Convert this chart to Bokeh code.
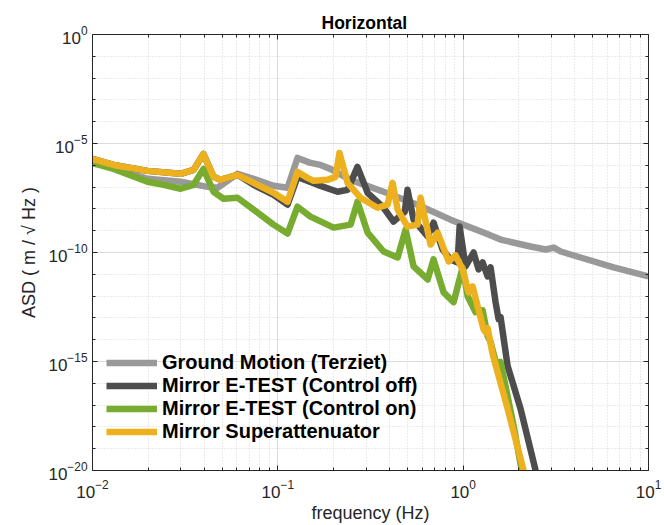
import numpy as np
from bokeh.plotting import figure
from bokeh.models import (LogAxis, FixedTicker, CustomJSTickFormatter, LogTickFormatter,
                          Legend, LegendItem, Range1d)
from bokeh.embed import file_html
from bokeh.resources import INLINE

FONT = "Liberation Sans"

# ---------------- data (frequency in Hz, ASD in m/sqrt(Hz)) ----------------
ground_f = [0.0100, 0.0130, 0.0198, 0.0299, 0.0418, 0.0473, 0.0606, 0.0740, 0.0948,
            0.1128, 0.1277, 0.150, 0.170, 0.192, 0.247, 0.372, 0.567, 0.855, 1.288,
            1.592, 2.31, 2.79, 3.08, 3.36, 4.30, 6.49, 10.0]
ground_asd = [1.43e-6, 7.6e-7, 2.39e-7, 1.75e-7, 1.03e-7, 9.3e-8, 4.05e-7, 2.39e-7, 1.15e-7,
              9.3e-8, 2.18e-6, 1.29e-6, 1.04e-6, 6.85e-7, 2.15e-7, 6.1e-8, 1.56e-8, 3.21e-9, 8.2e-10,
              3.9e-10, 1.88e-10, 1.37e-10, 1.69e-10, 1.11e-10, 5.9e-11, 2.07e-11, 8.0e-12]

off_f = [0.0100, 0.0130, 0.0198, 0.0299, 0.0351, 0.0397, 0.0450, 0.0491, 0.0606, 0.0740,
         0.0948, 0.1128, 0.1277, 0.164, 0.210, 0.238, 0.269, 0.305, 0.372, 0.421,
         0.484, 0.501, 0.540, 0.643, 0.692, 0.774, 0.855, 0.933, 0.957, 1.03, 1.138,
         1.211, 1.273, 1.355, 1.406, 1.496, 1.553, 1.592, 1.737, 2.04, 2.46, 2.55]
off_asd = [1.96e-6, 1.04e-6, 5.55e-7, 4.05e-7, 6.17e-7, 3.32e-6, 2.95e-7, 2.15e-7, 3.65e-7, 1.27e-7,
           4.45e-8, 1.56e-8, 2.95e-7, 1.27e-7, 6.1e-8, 7.5e-8, 8.45e-7, 5.5e-8, 1.13e-8, 2.6e-9,
           7.4e-9, 7.5e-8, 3.21e-9, 5.4e-10, 2.34e-9, 1.37e-10, 4.8e-11, 3.5e-11, 1.54e-9, 2.3e-11, 1.0e-10,
           1.67e-11, 3.5e-11, 8.0e-12, 2.07e-11, 5.2e-13, 8.7e-14, 1.08e-13, 6.2e-16, 6.8e-18, 1e-20, 4.3e-21]

on_f = [0.0100, 0.0130, 0.0198, 0.0242, 0.0299, 0.0351, 0.0397, 0.0450, 0.0509, 0.0606,
        0.0740, 0.0948, 0.1128, 0.1277, 0.150, 0.200, 0.247, 0.269, 0.305, 0.372,
        0.443, 0.489, 0.540, 0.643, 0.692, 0.784, 0.888, 0.993, 1.057, 1.167,
        1.273, 1.355, 1.406, 1.534, 1.592, 1.871, 2.07, 2.12]
on_asd = [1.29e-6, 6.85e-7, 1.75e-7, 1.27e-7, 8.4e-8, 1.27e-7, 6.85e-7, 6.1e-8, 2.92e-8, 3.25e-8,
          9.2e-9, 1.90e-9, 7.4e-10, 1.26e-8, 4.4e-9, 1.39e-9, 1.90e-9, 2.13e-8, 8.2e-10, 1.11e-10,
          5.9e-11, 1.12e-9, 2.3e-11, 5.8e-12, 4.8e-11, 1.49e-12, 5.2e-13, 2.07e-11, 9.8e-13, 1.82e-13,
          2.25e-13, 1.46e-14, 7.8e-15, 4.5e-16, 9.5e-16, 1.13e-18, 1e-20, 4.3e-21]

sa_f = [0.0100, 0.0130, 0.0198, 0.0299, 0.0351, 0.0397, 0.0450, 0.0491, 0.0606, 0.0740,
        0.0948, 0.1128, 0.1277, 0.1446, 0.156, 0.185, 0.205, 0.215, 0.238, 0.279,
        0.345, 0.391, 0.416, 0.443, 0.501, 0.567, 0.589, 0.667, 0.728, 0.835, 0.910,
        0.993, 1.07, 1.124, 1.197, 1.288, 1.321, 1.355, 1.442, 1.737, 2.12, 2.17]
sa_asd = [1.96e-6, 1.04e-6, 5.55e-7, 4.05e-7, 6.17e-7, 3.32e-6, 2.95e-7, 2.15e-7, 3.65e-7, 1.57e-7,
          5.5e-8, 2.13e-8, 5.0e-7, 2.66e-7, 1.94e-7, 2.15e-7, 2.95e-7, 3.68e-6, 1.57e-7, 3.25e-8,
          1.13e-8, 1.56e-8, 1.57e-7, 9.2e-9, 1.54e-9, 1.9e-9, 3.25e-8, 2.32e-10, 8.2e-10, 3.9e-11, 7.3e-11,
          1.67e-11, 1.49e-12, 2.8e-12, 3.4e-13, 3.05e-14, 2.2e-14, 3.4e-14, 2.2e-15, 6.8e-18, 1e-20, 4.3e-21]

series_names = ["Ground Motion (Terziet)", "Mirror E-TEST (Control off)",
                "Mirror E-TEST (Control on)", "Mirror Superattenuator"]
series_colors = ["#999999", "#4d4d4d", "#77ac30", "#edb120"]

x_major = [1e-2, 1e-1, 1e0, 1e1]
x_minor = [m * d for d in (1e-2, 1e-1, 1e0) for m in range(2, 10)]
y_major = [1e-20, 1e-15, 1e-10, 1e-5, 1e0]
y_minor = [10.0 ** e for e in range(-20, 1)]

# ---------------- figure ----------------
p = figure(width=664, height=525, x_axis_type="log", y_axis_type="log",
           x_range=Range1d(1e-2, 1e1), y_range=Range1d(1e-20, 1e0),
           output_backend="svg", toolbar_location=None,
           min_border_left=92, min_border_right=16, min_border_top=34, min_border_bottom=53)
p.outline_line_color = None
p.background_fill_color = "white"

p.title.text = "Horizontal"
p.title.align = "left"
p.title.offset = 229
p.title.text_font = FONT
p.title.text_font_size = "17.5px"
p.title.text_font_style = "bold"
p.title.text_color = "black"
p.title.standoff = 4

xt = FixedTicker(ticks=x_major, minor_ticks=x_minor)
yt = FixedTicker(ticks=y_major, minor_ticks=y_minor)

AX = "#262626"
def style_axis(ax):
    ax.axis_line_color = AX
    ax.axis_line_width = 1
    ax.major_tick_line_color = AX
    ax.minor_tick_line_color = AX
    ax.major_tick_in = 5
    ax.major_tick_out = 0
    ax.minor_tick_in = 3
    ax.minor_tick_out = 0
    ax.major_label_text_font = FONT
    ax.major_label_text_font_size = "17px"
    ax.major_label_text_color = AX

p.xaxis.ticker = xt
p.yaxis.ticker = yt
p.xaxis.formatter = LogTickFormatter(min_exponent=0)
p.yaxis.formatter = LogTickFormatter(min_exponent=0)
style_axis(p.xaxis[0])
style_axis(p.yaxis[0])
p.xaxis.major_label_standoff = 9
p.yaxis.major_label_standoff = 5

p.yaxis.axis_label = "ASD ( m / \u221a Hz )"
p.xaxis.axis_label = "frequency (Hz)"
for ax in (p.xaxis[0], p.yaxis[0]):
    ax.axis_label_text_font = FONT
    ax.axis_label_text_font_size = "18px"
    ax.axis_label_text_font_style = "normal"
    ax.axis_label_text_color = AX
p.yaxis.axis_label_standoff = 6
p.xaxis.axis_label_standoff = 2

blank = CustomJSTickFormatter(code="return '';")
top_ax = LogAxis(ticker=xt, formatter=blank, major_label_standoff=0)
right_ax = LogAxis(ticker=yt, formatter=blank, major_label_standoff=0)
style_axis(top_ax)
style_axis(right_ax)
p.add_layout(top_ax, "above")
p.add_layout(right_ax, "right")

for g in (p.xgrid[0], p.ygrid[0]):
    g.grid_line_color = "#dcdcdc"
    g.grid_line_width = 1
    g.minor_grid_line_color = "#d6d6d6"
    g.minor_grid_line_dash = "1 2"
    g.minor_grid_line_width = 1
p.xgrid.ticker = xt
p.ygrid.ticker = yt

# ---------------- lines ----------------
data = [(ground_f, ground_asd), (off_f, off_asd), (on_f, on_asd), (sa_f, sa_asd)]
items = []
for (f, a), name, col in zip(data, series_names, series_colors):
    r = p.line(f, a, line_width=6.5, line_color=col, line_join="round")
    items.append(LegendItem(label=name, renderers=[r]))

legend = Legend(items=items, location=(14, 27), padding=0, margin=0, spacing=0,
                glyph_width=51, glyph_height=21, label_height=21, label_standoff=5,
                label_text_font=FONT, label_text_font_size="20px",
                label_text_font_style="bold", label_text_color="black",
                background_fill_alpha=0, border_line_alpha=0)
p.add_layout(legend, "center")

open("out.html", "w").write(file_html(p, INLINE))
